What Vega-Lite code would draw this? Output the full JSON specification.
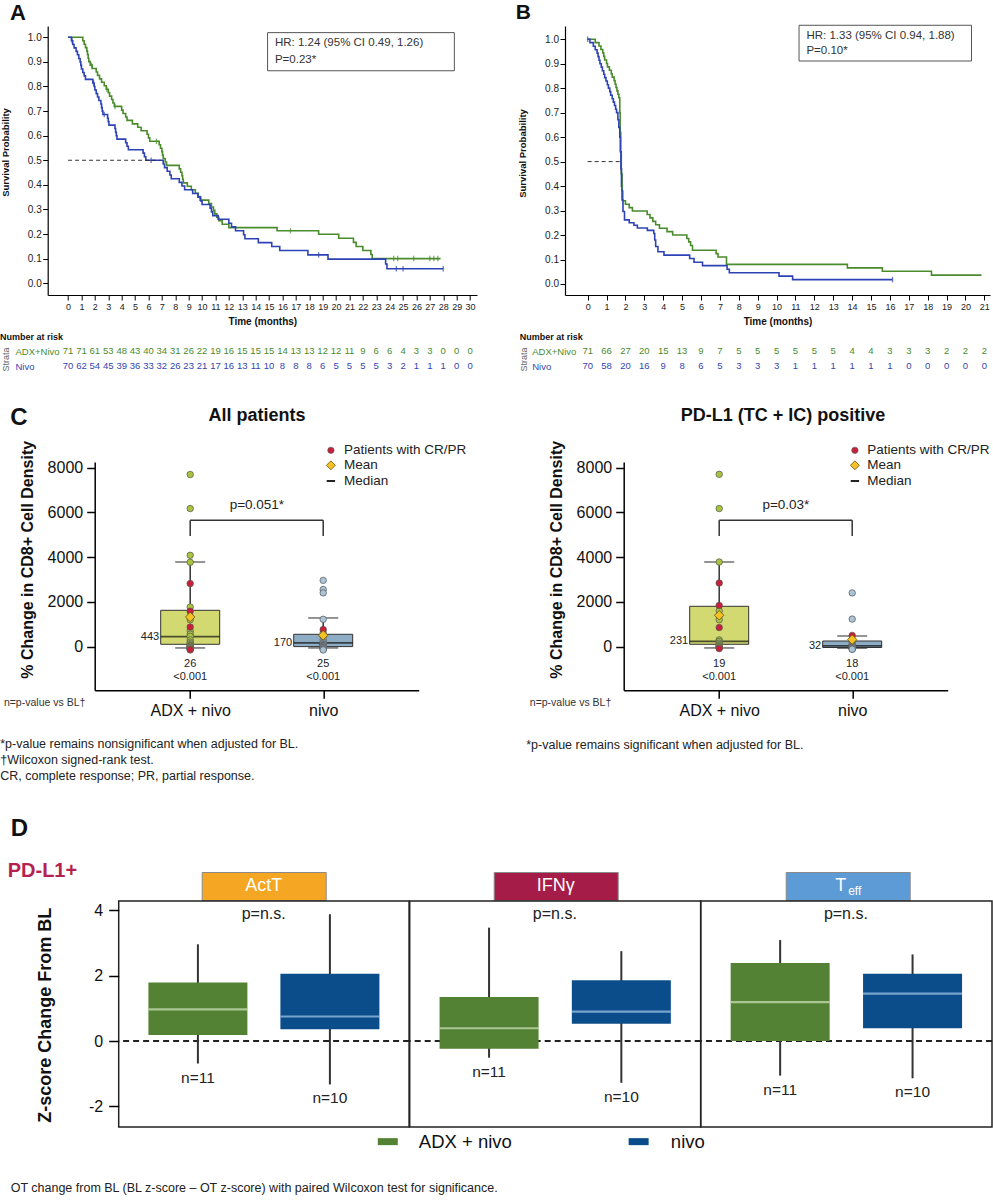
{
"$schema": "https://vega.github.io/schema/vega-lite/v6.json",
"autosize": {"type": "none"},
"padding": {"left": 47.7, "top": 26, "right": 945.3, "bottom": 1174},
"background": "white",
"config": {
  "view": {"stroke": null},
  "font": "Liberation Sans",
  "axis": {"grid": false, "labelOverlap": false, "domainColor": "#000", "tickColor": "#000", "labelColor": "#222", "titleColor": "#111", "labelFont": "Liberation Sans", "titleFont": "Liberation Sans"},
  "text": {"font": "Liberation Sans"}
},
"datasets": {
  "kmA": [
    {"t":0,"s":1.0,"g":"ADX+Nivo"},{"t":1.1,"s":0.986,"g":"ADX+Nivo"},{"t":1.2,"s":0.972,"g":"ADX+Nivo"},{"t":1.3,"s":0.958,"g":"ADX+Nivo"},{"t":1.4,"s":0.944,"g":"ADX+Nivo"},{"t":1.45,"s":0.930,"g":"ADX+Nivo"},{"t":1.5,"s":0.915,"g":"ADX+Nivo"},{"t":1.55,"s":0.901,"g":"ADX+Nivo"},{"t":1.65,"s":0.887,"g":"ADX+Nivo"},{"t":1.8,"s":0.873,"g":"ADX+Nivo"},{"t":2.1,"s":0.859,"g":"ADX+Nivo"},{"t":2.2,"s":0.845,"g":"ADX+Nivo"},{"t":2.35,"s":0.831,"g":"ADX+Nivo"},{"t":2.5,"s":0.817,"g":"ADX+Nivo"},{"t":2.7,"s":0.803,"g":"ADX+Nivo"},{"t":2.85,"s":0.789,"g":"ADX+Nivo"},{"t":3.0,"s":0.775,"g":"ADX+Nivo"},{"t":3.1,"s":0.761,"g":"ADX+Nivo"},{"t":3.25,"s":0.747,"g":"ADX+Nivo"},{"t":3.35,"s":0.733,"g":"ADX+Nivo"},{"t":3.45,"s":0.719,"g":"ADX+Nivo"},{"t":4.0,"s":0.704,"g":"ADX+Nivo"},{"t":4.1,"s":0.690,"g":"ADX+Nivo"},{"t":4.3,"s":0.676,"g":"ADX+Nivo"},{"t":4.4,"s":0.662,"g":"ADX+Nivo"},{"t":4.8,"s":0.648,"g":"ADX+Nivo"},{"t":5.2,"s":0.634,"g":"ADX+Nivo"},{"t":5.45,"s":0.620,"g":"ADX+Nivo"},{"t":5.9,"s":0.606,"g":"ADX+Nivo"},{"t":6.0,"s":0.591,"g":"ADX+Nivo"},{"t":6.1,"s":0.577,"g":"ADX+Nivo"},{"t":6.8,"s":0.563,"g":"ADX+Nivo"},{"t":6.9,"s":0.549,"g":"ADX+Nivo"},{"t":7.0,"s":0.535,"g":"ADX+Nivo"},{"t":7.05,"s":0.521,"g":"ADX+Nivo"},{"t":7.1,"s":0.507,"g":"ADX+Nivo"},{"t":7.25,"s":0.493,"g":"ADX+Nivo"},{"t":7.35,"s":0.479,"g":"ADX+Nivo"},{"t":8.3,"s":0.465,"g":"ADX+Nivo"},{"t":8.4,"s":0.451,"g":"ADX+Nivo"},{"t":8.5,"s":0.437,"g":"ADX+Nivo"},{"t":8.55,"s":0.423,"g":"ADX+Nivo"},{"t":8.6,"s":0.408,"g":"ADX+Nivo"},{"t":8.9,"s":0.394,"g":"ADX+Nivo"},{"t":9.2,"s":0.380,"g":"ADX+Nivo"},{"t":9.5,"s":0.366,"g":"ADX+Nivo"},{"t":9.7,"s":0.352,"g":"ADX+Nivo"},{"t":9.85,"s":0.338,"g":"ADX+Nivo"},{"t":10.5,"s":0.324,"g":"ADX+Nivo"},{"t":10.7,"s":0.310,"g":"ADX+Nivo"},{"t":10.85,"s":0.296,"g":"ADX+Nivo"},{"t":10.95,"s":0.282,"g":"ADX+Nivo"},{"t":11.1,"s":0.268,"g":"ADX+Nivo"},{"t":11.25,"s":0.254,"g":"ADX+Nivo"},{"t":11.5,"s":0.240,"g":"ADX+Nivo"},{"t":12.0,"s":0.226,"g":"ADX+Nivo"},{"t":15.6,"s":0.213,"g":"ADX+Nivo"},{"t":18.7,"s":0.199,"g":"ADX+Nivo"},{"t":20.2,"s":0.183,"g":"ADX+Nivo"},{"t":21.3,"s":0.166,"g":"ADX+Nivo"},{"t":21.5,"s":0.149,"g":"ADX+Nivo"},{"t":22.0,"s":0.133,"g":"ADX+Nivo"},{"t":22.6,"s":0.117,"g":"ADX+Nivo"},{"t":22.7,"s":0.100,"g":"ADX+Nivo"},{"t":27.8,"s":0.100,"g":"ADX+Nivo"},
    {"t":0,"s":1.0,"g":"Nivo"},{"t":0.25,"s":0.986,"g":"Nivo"},{"t":0.35,"s":0.971,"g":"Nivo"},{"t":0.45,"s":0.957,"g":"Nivo"},{"t":0.6,"s":0.943,"g":"Nivo"},{"t":0.7,"s":0.929,"g":"Nivo"},{"t":0.8,"s":0.914,"g":"Nivo"},{"t":0.9,"s":0.900,"g":"Nivo"},{"t":0.95,"s":0.886,"g":"Nivo"},{"t":1.0,"s":0.871,"g":"Nivo"},{"t":1.1,"s":0.857,"g":"Nivo"},{"t":1.2,"s":0.843,"g":"Nivo"},{"t":1.3,"s":0.829,"g":"Nivo"},{"t":1.85,"s":0.814,"g":"Nivo"},{"t":1.95,"s":0.800,"g":"Nivo"},{"t":2.0,"s":0.786,"g":"Nivo"},{"t":2.1,"s":0.771,"g":"Nivo"},{"t":2.2,"s":0.757,"g":"Nivo"},{"t":2.3,"s":0.743,"g":"Nivo"},{"t":2.45,"s":0.729,"g":"Nivo"},{"t":2.5,"s":0.714,"g":"Nivo"},{"t":2.55,"s":0.700,"g":"Nivo"},{"t":2.6,"s":0.686,"g":"Nivo"},{"t":2.95,"s":0.671,"g":"Nivo"},{"t":3.0,"s":0.657,"g":"Nivo"},{"t":3.05,"s":0.643,"g":"Nivo"},{"t":3.5,"s":0.629,"g":"Nivo"},{"t":3.55,"s":0.614,"g":"Nivo"},{"t":3.6,"s":0.600,"g":"Nivo"},{"t":3.65,"s":0.586,"g":"Nivo"},{"t":4.3,"s":0.571,"g":"Nivo"},{"t":4.4,"s":0.557,"g":"Nivo"},{"t":4.5,"s":0.543,"g":"Nivo"},{"t":5.6,"s":0.529,"g":"Nivo"},{"t":5.7,"s":0.514,"g":"Nivo"},{"t":5.8,"s":0.500,"g":"Nivo"},{"t":7.1,"s":0.485,"g":"Nivo"},{"t":7.2,"s":0.470,"g":"Nivo"},{"t":7.4,"s":0.455,"g":"Nivo"},{"t":7.6,"s":0.440,"g":"Nivo"},{"t":7.7,"s":0.425,"g":"Nivo"},{"t":8.3,"s":0.410,"g":"Nivo"},{"t":8.5,"s":0.395,"g":"Nivo"},{"t":8.7,"s":0.380,"g":"Nivo"},{"t":9.3,"s":0.365,"g":"Nivo"},{"t":9.7,"s":0.350,"g":"Nivo"},{"t":9.9,"s":0.335,"g":"Nivo"},{"t":10.0,"s":0.320,"g":"Nivo"},{"t":10.6,"s":0.305,"g":"Nivo"},{"t":10.7,"s":0.290,"g":"Nivo"},{"t":10.8,"s":0.275,"g":"Nivo"},{"t":11.2,"s":0.260,"g":"Nivo"},{"t":12.0,"s":0.244,"g":"Nivo"},{"t":12.2,"s":0.229,"g":"Nivo"},{"t":12.5,"s":0.213,"g":"Nivo"},{"t":13.1,"s":0.197,"g":"Nivo"},{"t":13.2,"s":0.181,"g":"Nivo"},{"t":14.2,"s":0.165,"g":"Nivo"},{"t":15.2,"s":0.149,"g":"Nivo"},{"t":15.8,"s":0.133,"g":"Nivo"},{"t":17.9,"s":0.115,"g":"Nivo"},{"t":19.4,"s":0.098,"g":"Nivo"},{"t":23.7,"s":0.078,"g":"Nivo"},{"t":23.8,"s":0.059,"g":"Nivo"},{"t":28.0,"s":0.059,"g":"Nivo"}
  ],
  "censA": [
    {"t":1.75,"s":0.887,"g":"ADX+Nivo"},{"t":2.9,"s":0.789,"g":"ADX+Nivo"},{"t":3.5,"s":0.719,"g":"ADX+Nivo"},{"t":6.6,"s":0.577,"g":"ADX+Nivo"},{"t":16.6,"s":0.213,"g":"ADX+Nivo"},{"t":24.3,"s":0.1,"g":"ADX+Nivo"},{"t":24.6,"s":0.1,"g":"ADX+Nivo"},{"t":25.8,"s":0.1,"g":"ADX+Nivo"},{"t":27.0,"s":0.1,"g":"ADX+Nivo"},{"t":27.3,"s":0.1,"g":"ADX+Nivo"},{"t":27.6,"s":0.1,"g":"ADX+Nivo"},
    {"t":0.3,"s":0.986,"g":"Nivo"},{"t":1.9,"s":0.814,"g":"Nivo"},{"t":2.7,"s":0.686,"g":"Nivo"},{"t":6.2,"s":0.5,"g":"Nivo"},{"t":18.7,"s":0.115,"g":"Nivo"},{"t":24.5,"s":0.059,"g":"Nivo"},{"t":25.0,"s":0.059,"g":"Nivo"},{"t":28.0,"s":0.059,"g":"Nivo"}
  ],
  "kmB": [
    {"t":0,"s":1.0,"g":"ADX+Nivo"},{"t":0.4,"s":0.986,"g":"ADX+Nivo"},{"t":0.6,"s":0.972,"g":"ADX+Nivo"},{"t":0.7,"s":0.958,"g":"ADX+Nivo"},{"t":0.8,"s":0.944,"g":"ADX+Nivo"},{"t":0.85,"s":0.930,"g":"ADX+Nivo"},{"t":0.9,"s":0.915,"g":"ADX+Nivo"},{"t":1.0,"s":0.901,"g":"ADX+Nivo"},{"t":1.05,"s":0.887,"g":"ADX+Nivo"},{"t":1.15,"s":0.873,"g":"ADX+Nivo"},{"t":1.25,"s":0.859,"g":"ADX+Nivo"},{"t":1.3,"s":0.845,"g":"ADX+Nivo"},{"t":1.4,"s":0.831,"g":"ADX+Nivo"},{"t":1.45,"s":0.817,"g":"ADX+Nivo"},{"t":1.5,"s":0.803,"g":"ADX+Nivo"},{"t":1.55,"s":0.789,"g":"ADX+Nivo"},{"t":1.6,"s":0.775,"g":"ADX+Nivo"},{"t":1.65,"s":0.761,"g":"ADX+Nivo"},{"t":1.7,"s":0.700,"g":"ADX+Nivo"},{"t":1.72,"s":0.620,"g":"ADX+Nivo"},{"t":1.75,"s":0.540,"g":"ADX+Nivo"},{"t":1.78,"s":0.450,"g":"ADX+Nivo"},{"t":1.82,"s":0.380,"g":"ADX+Nivo"},{"t":1.86,"s":0.340,"g":"ADX+Nivo"},{"t":2.0,"s":0.326,"g":"ADX+Nivo"},{"t":2.2,"s":0.312,"g":"ADX+Nivo"},{"t":2.37,"s":0.298,"g":"ADX+Nivo"},{"t":3.15,"s":0.284,"g":"ADX+Nivo"},{"t":3.3,"s":0.270,"g":"ADX+Nivo"},{"t":3.45,"s":0.256,"g":"ADX+Nivo"},{"t":3.6,"s":0.242,"g":"ADX+Nivo"},{"t":3.8,"s":0.228,"g":"ADX+Nivo"},{"t":4.2,"s":0.214,"g":"ADX+Nivo"},{"t":4.5,"s":0.200,"g":"ADX+Nivo"},{"t":5.25,"s":0.186,"g":"ADX+Nivo"},{"t":5.35,"s":0.172,"g":"ADX+Nivo"},{"t":5.45,"s":0.157,"g":"ADX+Nivo"},{"t":5.55,"s":0.138,"g":"ADX+Nivo"},{"t":6.8,"s":0.124,"g":"ADX+Nivo"},{"t":6.9,"s":0.110,"g":"ADX+Nivo"},{"t":7.35,"s":0.080,"g":"ADX+Nivo"},{"t":13.75,"s":0.066,"g":"ADX+Nivo"},{"t":15.6,"s":0.052,"g":"ADX+Nivo"},{"t":18.2,"s":0.036,"g":"ADX+Nivo"},{"t":20.85,"s":0.036,"g":"ADX+Nivo"},
    {"t":0,"s":1.0,"g":"Nivo"},{"t":0.12,"s":0.986,"g":"Nivo"},{"t":0.3,"s":0.971,"g":"Nivo"},{"t":0.4,"s":0.957,"g":"Nivo"},{"t":0.5,"s":0.943,"g":"Nivo"},{"t":0.55,"s":0.929,"g":"Nivo"},{"t":0.6,"s":0.914,"g":"Nivo"},{"t":0.65,"s":0.900,"g":"Nivo"},{"t":0.72,"s":0.886,"g":"Nivo"},{"t":0.78,"s":0.871,"g":"Nivo"},{"t":0.85,"s":0.857,"g":"Nivo"},{"t":0.9,"s":0.843,"g":"Nivo"},{"t":0.97,"s":0.829,"g":"Nivo"},{"t":1.04,"s":0.814,"g":"Nivo"},{"t":1.1,"s":0.800,"g":"Nivo"},{"t":1.17,"s":0.786,"g":"Nivo"},{"t":1.22,"s":0.771,"g":"Nivo"},{"t":1.3,"s":0.757,"g":"Nivo"},{"t":1.36,"s":0.743,"g":"Nivo"},{"t":1.42,"s":0.729,"g":"Nivo"},{"t":1.48,"s":0.714,"g":"Nivo"},{"t":1.53,"s":0.700,"g":"Nivo"},{"t":1.6,"s":0.671,"g":"Nivo"},{"t":1.65,"s":0.640,"g":"Nivo"},{"t":1.7,"s":0.600,"g":"Nivo"},{"t":1.73,"s":0.540,"g":"Nivo"},{"t":1.76,"s":0.470,"g":"Nivo"},{"t":1.79,"s":0.400,"g":"Nivo"},{"t":1.82,"s":0.343,"g":"Nivo"},{"t":1.87,"s":0.296,"g":"Nivo"},{"t":1.95,"s":0.262,"g":"Nivo"},{"t":2.2,"s":0.250,"g":"Nivo"},{"t":2.45,"s":0.240,"g":"Nivo"},{"t":2.63,"s":0.229,"g":"Nivo"},{"t":3.16,"s":0.219,"g":"Nivo"},{"t":3.5,"s":0.206,"g":"Nivo"},{"t":3.55,"s":0.180,"g":"Nivo"},{"t":3.6,"s":0.153,"g":"Nivo"},{"t":3.72,"s":0.132,"g":"Nivo"},{"t":4.04,"s":0.118,"g":"Nivo"},{"t":5.4,"s":0.104,"g":"Nivo"},{"t":5.63,"s":0.089,"g":"Nivo"},{"t":6.08,"s":0.075,"g":"Nivo"},{"t":7.38,"s":0.060,"g":"Nivo"},{"t":7.5,"s":0.046,"g":"Nivo"},{"t":10.13,"s":0.032,"g":"Nivo"},{"t":10.85,"s":0.018,"g":"Nivo"},{"t":16.14,"s":0.018,"g":"Nivo"}
  ],
  "censB": [
    {"t":1.84,"s":0.40,"g":"ADX+Nivo"},{"t":0,"s":1.0,"g":"Nivo"},{"t":16.14,"s":0.018,"g":"Nivo"}
  ],
  "riskA": [
    {"t":0,"g":"ADX+Nivo","n":71},{"t":1,"g":"ADX+Nivo","n":71},{"t":2,"g":"ADX+Nivo","n":61},{"t":3,"g":"ADX+Nivo","n":53},{"t":4,"g":"ADX+Nivo","n":48},{"t":5,"g":"ADX+Nivo","n":43},{"t":6,"g":"ADX+Nivo","n":40},{"t":7,"g":"ADX+Nivo","n":34},{"t":8,"g":"ADX+Nivo","n":31},{"t":9,"g":"ADX+Nivo","n":26},{"t":10,"g":"ADX+Nivo","n":22},{"t":11,"g":"ADX+Nivo","n":19},{"t":12,"g":"ADX+Nivo","n":16},{"t":13,"g":"ADX+Nivo","n":15},{"t":14,"g":"ADX+Nivo","n":15},{"t":15,"g":"ADX+Nivo","n":15},{"t":16,"g":"ADX+Nivo","n":14},{"t":17,"g":"ADX+Nivo","n":13},{"t":18,"g":"ADX+Nivo","n":13},{"t":19,"g":"ADX+Nivo","n":12},{"t":20,"g":"ADX+Nivo","n":12},{"t":21,"g":"ADX+Nivo","n":11},{"t":22,"g":"ADX+Nivo","n":9},{"t":23,"g":"ADX+Nivo","n":6},{"t":24,"g":"ADX+Nivo","n":6},{"t":25,"g":"ADX+Nivo","n":4},{"t":26,"g":"ADX+Nivo","n":3},{"t":27,"g":"ADX+Nivo","n":3},{"t":28,"g":"ADX+Nivo","n":0},{"t":29,"g":"ADX+Nivo","n":0},{"t":30,"g":"ADX+Nivo","n":0},
    {"t":0,"g":"Nivo","n":70},{"t":1,"g":"Nivo","n":62},{"t":2,"g":"Nivo","n":54},{"t":3,"g":"Nivo","n":45},{"t":4,"g":"Nivo","n":39},{"t":5,"g":"Nivo","n":36},{"t":6,"g":"Nivo","n":33},{"t":7,"g":"Nivo","n":32},{"t":8,"g":"Nivo","n":26},{"t":9,"g":"Nivo","n":23},{"t":10,"g":"Nivo","n":21},{"t":11,"g":"Nivo","n":17},{"t":12,"g":"Nivo","n":16},{"t":13,"g":"Nivo","n":13},{"t":14,"g":"Nivo","n":11},{"t":15,"g":"Nivo","n":10},{"t":16,"g":"Nivo","n":8},{"t":17,"g":"Nivo","n":8},{"t":18,"g":"Nivo","n":8},{"t":19,"g":"Nivo","n":6},{"t":20,"g":"Nivo","n":5},{"t":21,"g":"Nivo","n":5},{"t":22,"g":"Nivo","n":5},{"t":23,"g":"Nivo","n":5},{"t":24,"g":"Nivo","n":3},{"t":25,"g":"Nivo","n":2},{"t":26,"g":"Nivo","n":1},{"t":27,"g":"Nivo","n":1},{"t":28,"g":"Nivo","n":1},{"t":29,"g":"Nivo","n":0},{"t":30,"g":"Nivo","n":0}
  ],
  "riskB": [
    {"t":0,"g":"ADX+Nivo","n":71},{"t":1,"g":"ADX+Nivo","n":66},{"t":2,"g":"ADX+Nivo","n":27},{"t":3,"g":"ADX+Nivo","n":20},{"t":4,"g":"ADX+Nivo","n":15},{"t":5,"g":"ADX+Nivo","n":13},{"t":6,"g":"ADX+Nivo","n":9},{"t":7,"g":"ADX+Nivo","n":7},{"t":8,"g":"ADX+Nivo","n":5},{"t":9,"g":"ADX+Nivo","n":5},{"t":10,"g":"ADX+Nivo","n":5},{"t":11,"g":"ADX+Nivo","n":5},{"t":12,"g":"ADX+Nivo","n":5},{"t":13,"g":"ADX+Nivo","n":5},{"t":14,"g":"ADX+Nivo","n":4},{"t":15,"g":"ADX+Nivo","n":4},{"t":16,"g":"ADX+Nivo","n":3},{"t":17,"g":"ADX+Nivo","n":3},{"t":18,"g":"ADX+Nivo","n":3},{"t":19,"g":"ADX+Nivo","n":2},{"t":20,"g":"ADX+Nivo","n":2},{"t":21,"g":"ADX+Nivo","n":2},
    {"t":0,"g":"Nivo","n":70},{"t":1,"g":"Nivo","n":58},{"t":2,"g":"Nivo","n":20},{"t":3,"g":"Nivo","n":16},{"t":4,"g":"Nivo","n":9},{"t":5,"g":"Nivo","n":8},{"t":6,"g":"Nivo","n":6},{"t":7,"g":"Nivo","n":5},{"t":8,"g":"Nivo","n":3},{"t":9,"g":"Nivo","n":3},{"t":10,"g":"Nivo","n":3},{"t":11,"g":"Nivo","n":1},{"t":12,"g":"Nivo","n":1},{"t":13,"g":"Nivo","n":1},{"t":14,"g":"Nivo","n":1},{"t":15,"g":"Nivo","n":1},{"t":16,"g":"Nivo","n":1},{"t":17,"g":"Nivo","n":0},{"t":18,"g":"Nivo","n":0},{"t":19,"g":"Nivo","n":0},{"t":20,"g":"Nivo","n":0},{"t":21,"g":"Nivo","n":0}
  ],
  "cAll": [
    {"arm":"ADX + nivo","v":7690,"cr":false},{"arm":"ADX + nivo","v":6170,"cr":false},{"arm":"ADX + nivo","v":4080,"cr":false},{"arm":"ADX + nivo","v":3770,"cr":false},{"arm":"ADX + nivo","v":1770,"cr":false},{"arm":"ADX + nivo","v":1330,"cr":false},{"arm":"ADX + nivo","v":1200,"cr":false},{"arm":"ADX + nivo","v":700,"cr":false},{"arm":"ADX + nivo","v":560,"cr":false},{"arm":"ADX + nivo","v":460,"cr":false},{"arm":"ADX + nivo","v":300,"cr":false},{"arm":"ADX + nivo","v":200,"cr":false},{"arm":"ADX + nivo","v":130,"cr":false},{"arm":"ADX + nivo","v":80,"cr":false},{"arm":"ADX + nivo","v":40,"cr":false},{"arm":"ADX + nivo","v":20,"cr":false},{"arm":"ADX + nivo","v":10,"cr":false},{"arm":"ADX + nivo","v":-20,"cr":false},{"arm":"ADX + nivo","v":-50,"cr":false},{"arm":"ADX + nivo","v":-80,"cr":false},{"arm":"ADX + nivo","v":-100,"cr":false},{"arm":"ADX + nivo","v":-150,"cr":false},
    {"arm":"nivo","v":2960,"cr":false},{"arm":"nivo","v":2550,"cr":false},{"arm":"nivo","v":2400,"cr":false},{"arm":"nivo","v":1220,"cr":false},{"arm":"nivo","v":620,"cr":false},{"arm":"nivo","v":450,"cr":false},{"arm":"nivo","v":300,"cr":false},{"arm":"nivo","v":200,"cr":false},{"arm":"nivo","v":170,"cr":false},{"arm":"nivo","v":120,"cr":false},{"arm":"nivo","v":100,"cr":false},{"arm":"nivo","v":80,"cr":false},{"arm":"nivo","v":60,"cr":false},{"arm":"nivo","v":50,"cr":false},{"arm":"nivo","v":30,"cr":false},{"arm":"nivo","v":10,"cr":false},{"arm":"nivo","v":0,"cr":false},{"arm":"nivo","v":-20,"cr":false},{"arm":"nivo","v":-40,"cr":false},{"arm":"nivo","v":-60,"cr":false},{"arm":"nivo","v":-80,"cr":false},{"arm":"nivo","v":-100,"cr":false},{"arm":"nivo","v":-120,"cr":false},{"arm":"nivo","v":-150,"cr":false},
    {"arm":"ADX + nivo","v":2815,"cr":true},{"arm":"ADX + nivo","v":1580,"cr":true},{"arm":"ADX + nivo","v":876,"cr":true},{"arm":"ADX + nivo","v":-134,"cr":true},{"arm":"nivo","v":760,"cr":true}
  ],
  "cAllBox": [
    {"arm":"ADX + nivo","wlo":-60,"q1":103,"med":443,"q3":1622,"whi":3781,"mean":1323,"mlab":"443","n":"26","p":"<0.001"},
    {"arm":"nivo","wlo":-60,"q1":0,"med":170,"q3":550,"whi":1280,"mean":505,"mlab":"170","n":"25","p":"<0.001"}
  ],
  "cPos": [
    {"arm":"ADX + nivo","v":7700,"cr":false},{"arm":"ADX + nivo","v":6170,"cr":false},{"arm":"ADX + nivo","v":3780,"cr":false},{"arm":"ADX + nivo","v":1600,"cr":false},{"arm":"ADX + nivo","v":1400,"cr":false},{"arm":"ADX + nivo","v":1200,"cr":false},{"arm":"ADX + nivo","v":300,"cr":false},{"arm":"ADX + nivo","v":231,"cr":false},{"arm":"ADX + nivo","v":150,"cr":false},{"arm":"ADX + nivo","v":100,"cr":false},{"arm":"ADX + nivo","v":50,"cr":false},{"arm":"ADX + nivo","v":10,"cr":false},{"arm":"ADX + nivo","v":0,"cr":false},{"arm":"ADX + nivo","v":-20,"cr":false},{"arm":"ADX + nivo","v":-60,"cr":false},
    {"arm":"nivo","v":2400,"cr":false},{"arm":"nivo","v":1230,"cr":false},{"arm":"nivo","v":300,"cr":false},{"arm":"nivo","v":200,"cr":false},{"arm":"nivo","v":120,"cr":false},{"arm":"nivo","v":80,"cr":false},{"arm":"nivo","v":50,"cr":false},{"arm":"nivo","v":32,"cr":false},{"arm":"nivo","v":20,"cr":false},{"arm":"nivo","v":0,"cr":false},{"arm":"nivo","v":-20,"cr":false},{"arm":"nivo","v":-40,"cr":false},{"arm":"nivo","v":-60,"cr":false},{"arm":"nivo","v":-80,"cr":false},{"arm":"nivo","v":-100,"cr":false},{"arm":"nivo","v":-110,"cr":false},{"arm":"nivo","v":-120,"cr":false},
    {"arm":"ADX + nivo","v":2840,"cr":true},{"arm":"ADX + nivo","v":1840,"cr":true},{"arm":"ADX + nivo","v":850,"cr":true},{"arm":"ADX + nivo","v":-90,"cr":true},{"arm":"nivo","v":500,"cr":true}
  ],
  "cPosBox": [
    {"arm":"ADX + nivo","wlo":-60,"q1":103,"med":231,"q3":1801,"whi":3781,"mean":1399,"mlab":"231","n":"19","p":"<0.001"},
    {"arm":"nivo","wlo":-70,"q1":-40,"med":32,"q3":250,"whi":474,"mean":313,"mlab":"32","n":"18","p":"<0.001"}
  ],
  "dbox": [
    {"cat":"ActT","arm":"ADX + nivo","wlo":-0.69,"q1":0.18,"med":0.97,"q3":1.79,"whi":2.96,"n":"n=11"},
    {"cat":"ActT","arm":"nivo","wlo":-1.33,"q1":0.36,"med":0.75,"q3":2.06,"whi":3.88,"n":"n=10"},
    {"cat":"IFNg","arm":"ADX + nivo","wlo":-0.51,"q1":-0.24,"med":0.39,"q3":1.35,"whi":3.47,"n":"n=11"},
    {"cat":"IFNg","arm":"nivo","wlo":-1.28,"q1":0.53,"med":0.90,"q3":1.86,"whi":2.75,"n":"n=10"},
    {"cat":"Teff","arm":"ADX + nivo","wlo":-1.06,"q1":0.0,"med":1.19,"q3":2.39,"whi":3.09,"n":"n=11"},
    {"cat":"Teff","arm":"nivo","wlo":-1.14,"q1":0.39,"med":1.45,"q3":2.06,"whi":2.65,"n":"n=10"}
  ]
},
"spacing": 0,
"bounds": "flush",
"vconcat": [
  {
    "spacing": 87.3, "bounds": "flush",
    "hconcat": [
      {
        "width": 429.3, "height": 269,
        "layer": [
          {"data": {"name": "kmA"}, "mark": {"type": "line", "interpolate": "step-after", "strokeWidth": 1.6},
           "encoding": {
             "x": {"field": "t", "type": "quantitative", "scale": {"domain": [-1.52, 30.52], "nice": false, "zero": false},
               "axis": {"values": [0,1,2,3,4,5,6,7,8,9,10,11,12,13,14,15,16,17,18,19,20,21,22,23,24,25,26,27,28,29,30], "tickCount": 100, "format": "d", "title": "Time (months)", "labelFontSize": 9, "tickSize": 5, "labelPadding": 2, "labelFlush": false, "labelOverlap": false, "titleFontSize": 10, "titleFontWeight": "bold", "titlePadding": 5, "domainWidth": 1.2}},
             "y": {"field": "s", "type": "quantitative", "scale": {"domain": [-0.048, 1.046], "nice": false, "zero": false},
               "axis": {"values": [0,0.1,0.2,0.3,0.4,0.5,0.6,0.7,0.8,0.9,1], "tickCount": 100, "format": ".1f", "labelOverlap": false, "title": "Survival Probability", "labelFontSize": 10, "tickSize": 5, "labelPadding": 1.5, "titleFontSize": 9.5, "titleFontWeight": "bold", "titleX": -42.7, "titleY": 126, "titleAlign": "center", "titleBaseline": "middle", "titleAngle": -90, "domainWidth": 1.2}},
             "detail": {"field": "g", "type": "nominal"},
             "color": {"condition": {"test": "datum.g === 'Nivo'", "value": "#2d43b5"}, "value": "#4a8b2c"}
           }},
          {"data": {"name": "censA"}, "mark": {"type": "point", "shape": "M0,-1V1", "filled": false, "size": 30, "strokeWidth": 1.3},
           "encoding": {"x": {"field": "t", "type": "quantitative"}, "y": {"field": "s", "type": "quantitative"}, "color": {"condition": {"test": "datum.g === 'Nivo'", "value": "#2d43b5"}, "value": "#4a8b2c"}}},
          {"data": {"values": [{}]}, "mark": {"type": "rule", "strokeDash": [4, 3], "color": "#333", "strokeWidth": 1},
           "encoding": {"x": {"datum": 0}, "x2": {"datum": 6.9}, "y": {"datum": 0.5}}},
          {"data": {"values": [{}]}, "mark": {"type": "rect", "fill": "white", "stroke": "#555", "strokeWidth": 1},
           "encoding": {"x": {"datum": 14.89}, "x2": {"datum": 28.83}, "y": {"datum": 1.019}, "y2": {"datum": 0.864}}},
          {"data": {"values": [{}]}, "mark": {"type": "text", "align": "left", "baseline": "middle", "fontSize": 11.5, "color": "#333"},
           "encoding": {"x": {"datum": 15.44}, "y": {"datum": 0.976}, "text": {"value": "HR: 1.24 (95% CI 0.49, 1.26)"}}},
          {"data": {"values": [{}]}, "mark": {"type": "text", "align": "left", "baseline": "middle", "fontSize": 11.5, "color": "#333"},
           "encoding": {"x": {"datum": 15.44}, "y": {"datum": 0.908}, "text": {"value": "P=0.23*"}}},
          {"data": {"values": [{}]}, "mark": {"type": "text", "align": "left", "baseline": "middle", "fontSize": 22, "fontWeight": "bold", "color": "#111", "dx": -37.7, "dy": -13},
           "encoding": {"x": {"datum": -1.52}, "y": {"datum": 1.046}, "text": {"value": "A"}}}
        ]
      },
      {
        "width": 425, "height": 269,
        "layer": [
          {"data": {"name": "kmB"}, "mark": {"type": "line", "interpolate": "step-after", "strokeWidth": 1.6},
           "encoding": {
             "x": {"field": "t", "type": "quantitative", "scale": {"domain": [-1.2, 21.3], "nice": false, "zero": false},
               "axis": {"values": [0,1,2,3,4,5,6,7,8,9,10,11,12,13,14,15,16,17,18,19,20,21], "tickCount": 100, "format": "d", "title": "Time (months)", "labelFontSize": 9, "tickSize": 5, "labelPadding": 2, "labelFlush": false, "labelOverlap": false, "titleFontSize": 10, "titleFontWeight": "bold", "titlePadding": 5, "domainWidth": 1.2}},
             "y": {"field": "s", "type": "quantitative", "scale": {"domain": [-0.045, 1.054], "nice": false, "zero": false},
               "axis": {"values": [0,0.1,0.2,0.3,0.4,0.5,0.6,0.7,0.8,0.9,1], "tickCount": 100, "format": ".1f", "labelOverlap": false, "title": "Survival Probability", "labelFontSize": 10, "tickSize": 5, "labelPadding": 1.5, "titleFontSize": 9.5, "titleFontWeight": "bold", "titleX": -42.6, "titleY": 127, "titleAlign": "center", "titleBaseline": "middle", "titleAngle": -90, "domainWidth": 1.2}},
             "detail": {"field": "g", "type": "nominal"},
             "color": {"condition": {"test": "datum.g === 'Nivo'", "value": "#2d43b5"}, "value": "#4a8b2c"}
           }},
          {"data": {"name": "censB"}, "mark": {"type": "point", "shape": "M0,-1V1", "filled": false, "size": 30, "strokeWidth": 1.3},
           "encoding": {"x": {"field": "t", "type": "quantitative"}, "y": {"field": "s", "type": "quantitative"}, "color": {"condition": {"test": "datum.g === 'Nivo'", "value": "#2d43b5"}, "value": "#4a8b2c"}}},
          {"data": {"values": [{}]}, "mark": {"type": "rule", "strokeDash": [4, 3], "color": "#333", "strokeWidth": 1},
           "encoding": {"x": {"datum": 0}, "x2": {"datum": 1.75}, "y": {"datum": 0.5}}},
          {"data": {"values": [{}]}, "mark": {"type": "rect", "fill": "white", "stroke": "#555", "strokeWidth": 1},
           "encoding": {"x": {"datum": 11.19}, "x2": {"datum": 20.32}, "y": {"datum": 1.057}, "y2": {"datum": 0.911}}},
          {"data": {"values": [{}]}, "mark": {"type": "text", "align": "left", "baseline": "middle", "fontSize": 11.5, "color": "#333"},
           "encoding": {"x": {"datum": 11.58}, "y": {"datum": 1.015}, "text": {"value": "HR: 1.33 (95% CI 0.94, 1.88)"}}},
          {"data": {"values": [{}]}, "mark": {"type": "text", "align": "left", "baseline": "middle", "fontSize": 11.5, "color": "#333"},
           "encoding": {"x": {"datum": 11.58}, "y": {"datum": 0.953}, "text": {"value": "P=0.10*"}}},
          {"data": {"values": [{}]}, "mark": {"type": "text", "align": "left", "baseline": "middle", "fontSize": 21, "fontWeight": "bold", "color": "#111", "dx": -49.3, "dy": -13},
           "encoding": {"x": {"datum": -1.2}, "y": {"datum": 1.054}, "text": {"value": "B"}}}
        ]
      }
    ]
  },
  {"width": 1, "height": 314, "data": {"values": [{}]}, "mark": "text", "encoding": {"text": {"value": ""}}},
  {
    "spacing": 87.3, "bounds": "flush",
    "hconcat": [
      {
        "width": 429.3, "height": 35,
        "layer": [
          {"data": {"name": "riskA"},
           "mark": {"type": "text", "fontSize": 9.5, "baseline": "middle"},
           "encoding": {
             "x": {"field": "t", "type": "quantitative", "scale": {"domain": [-1.52, 30.52], "nice": false, "zero": false}, "axis": null},
             "y": {"field": "g", "type": "nominal", "scale": {"type": "point", "domain": ["ADX+Nivo", "Nivo"], "range": [11, 26], "padding": 0},
               "axis": {"title": "Strata", "domain": false, "ticks": false, "tickSize": 0, "labelAlign": "left", "labelPadding": 32.7, "labelFontSize": 9.5, "labelBaseline": "middle",
                 "labelColor": {"condition": {"test": "datum.value === 'Nivo'", "value": "#3346b0"}, "value": "#4a8b2c"},
                 "titleX": -42.7, "titleY": 19, "titleAngle": -90, "titleAlign": "center", "titleBaseline": "middle", "titleFontSize": 9, "titleFontWeight": "normal", "titleColor": "#666"}},
             "text": {"field": "n", "type": "quantitative"},
             "color": {"condition": {"test": "datum.g === 'Nivo'", "value": "#3346b0"}, "value": "#4a8b2c"}
           }},
          {"data": {"values": [{}]}, "mark": {"type": "text", "align": "left", "baseline": "middle", "fontSize": 9, "fontWeight": "bold", "color": "#111", "dx": -47.7, "dy": -14.3},
           "encoding": {"x": {"datum": -1.52}, "y": {"datum": "ADX+Nivo"}, "text": {"value": "Number at risk"}}}
        ]
      },
      {
        "width": 425, "height": 35,
        "layer": [
          {"data": {"name": "riskB"},
           "mark": {"type": "text", "fontSize": 9.5, "baseline": "middle"},
           "encoding": {
             "x": {"field": "t", "type": "quantitative", "scale": {"domain": [-1.2, 21.3], "nice": false, "zero": false}, "axis": null},
             "y": {"field": "g", "type": "nominal", "scale": {"type": "point", "domain": ["ADX+Nivo", "Nivo"], "range": [11, 26], "padding": 0},
               "axis": {"title": "Strata", "domain": false, "ticks": false, "tickSize": 0, "labelAlign": "left", "labelPadding": 33.3, "labelFontSize": 9.5, "labelBaseline": "middle",
                 "labelColor": {"condition": {"test": "datum.value === 'Nivo'", "value": "#3346b0"}, "value": "#4a8b2c"},
                 "titleX": -41.3, "titleY": 19, "titleAngle": -90, "titleAlign": "center", "titleBaseline": "middle", "titleFontSize": 9, "titleFontWeight": "normal", "titleColor": "#666"}},
             "text": {"field": "n", "type": "quantitative"},
             "color": {"condition": {"test": "datum.g === 'Nivo'", "value": "#3346b0"}, "value": "#4a8b2c"}
           }},
          {"data": {"values": [{}]}, "mark": {"type": "text", "align": "left", "baseline": "middle", "fontSize": 9, "fontWeight": "bold", "color": "#111", "dx": -45.3, "dy": -14.3},
           "encoding": {"x": {"datum": -1.2}, "y": {"datum": "ADX+Nivo"}, "text": {"value": "Number at risk"}}}
        ]
      }
    ]
  },
  {"width": 1, "height": 121.7, "data": {"values": [{}]}, "mark": "text", "encoding": {"text": {"value": ""}}},
  {
    "spacing": 0, "bounds": "flush",
    "hconcat": [
      {"width": 46.6, "height": 228.3, "data": {"values": [{}]}, "mark": "text", "encoding": {"text": {"value": ""}}},
      {
        "width": 324, "height": 228.3,
        "layer": [
          {"data": {"name": "cAllBox"}, "mark": {"type": "rule", "color": "#333", "strokeWidth": 1.5},
           "encoding": {
             "x": {"field": "arm", "type": "nominal", "scale": {"type": "point", "domain": ["ADX + nivo", "nivo"], "padding": 0.718},
               "axis": {"title": "n=p-value vs BL\u2020", "labelFontSize": 16, "labelAngle": 0, "tickSize": 8, "labelPadding": 4, "domainWidth": 1.5, "tickWidth": 1.5, "labelColor": "#111", "titleX": -91.3, "titleY": 11.7, "titleAlign": "left", "titleBaseline": "middle", "titleFontSize": 10.5, "titleFontWeight": "normal", "titleColor": "#333"}},
             "y": {"field": "wlo", "type": "quantitative", "scale": {"domain": [-1953, 8250], "nice": false, "zero": false},
               "axis": {"values": [0, 2000, 4000, 6000, 8000], "tickCount": 100, "format": "d", "title": "% Change in CD8+ Cell Density", "labelFontSize": 16, "tickSize": 8, "labelPadding": 4, "domainWidth": 1.5, "tickWidth": 1.5, "labelColor": "#111", "titleFontSize": 16, "titleFontWeight": "bold", "titleX": -67.3, "titleY": 97.3, "titleAlign": "center", "titleBaseline": "middle", "titleAngle": -90}},
             "y2": {"field": "whi"}
           }},
          {"data": {"name": "cAllBox"}, "mark": {"type": "tick", "color": "#333", "size": 30, "thickness": 1.5},
           "encoding": {"x": {"field": "arm", "type": "nominal"}, "y": {"field": "whi", "type": "quantitative"}}},
          {"data": {"name": "cAllBox"}, "mark": {"type": "tick", "color": "#333", "size": 30, "thickness": 1.5},
           "encoding": {"x": {"field": "arm", "type": "nominal"}, "y": {"field": "wlo", "type": "quantitative"}}},
          {"data": {"name": "cAllBox"}, "mark": {"type": "bar", "size": 59, "stroke": "#333", "strokeWidth": 1},
           "encoding": {"x": {"field": "arm", "type": "nominal"}, "y": {"field": "q1", "type": "quantitative"}, "y2": {"field": "q3"},
             "color": {"condition": {"test": "datum.arm === 'nivo'", "value": "#8eadc5"}, "value": "#d2d971"}}},
          {"data": {"name": "cAllBox"}, "mark": {"type": "tick", "color": "#111", "size": 59, "thickness": 1.8},
           "encoding": {"x": {"field": "arm", "type": "nominal"}, "y": {"field": "med", "type": "quantitative"}}},
          {"data": {"name": "cAll"}, "mark": {"type": "circle", "size": 42, "stroke": "#555", "strokeWidth": 0.7, "opacity": 1},
           "encoding": {"x": {"field": "arm", "type": "nominal"}, "y": {"field": "v", "type": "quantitative"},
             "color": {"condition": [{"test": "datum.cr", "value": "#c91f3a"}, {"test": "datum.arm === 'nivo'", "value": "#aac4d8"}], "value": "#a8c43f"}}},
          {"data": {"name": "cAllBox"}, "mark": {"type": "point", "shape": "diamond", "filled": true, "size": 90, "fill": "#f5c226", "stroke": "#6b5200", "strokeWidth": 0.8, "opacity": 1},
           "encoding": {"x": {"field": "arm", "type": "nominal"}, "y": {"field": "mean", "type": "quantitative"}}},
          {"data": {"name": "cAllBox"}, "mark": {"type": "text", "align": "right", "baseline": "middle", "dx": -31, "fontSize": 11, "color": "#222"},
           "encoding": {"x": {"field": "arm", "type": "nominal"}, "y": {"field": "med", "type": "quantitative"}, "text": {"field": "mlab"}}},
          {"data": {"name": "cAllBox"}, "mark": {"type": "text", "baseline": "middle", "fontSize": 11, "color": "#222"},
           "encoding": {"x": {"field": "arm", "type": "nominal"}, "y": {"datum": -790}, "text": {"field": "n"}}},
          {"data": {"name": "cAllBox"}, "mark": {"type": "text", "baseline": "middle", "fontSize": 11, "color": "#222"},
           "encoding": {"x": {"field": "arm", "type": "nominal"}, "y": {"datum": -1360}, "text": {"field": "p"}}},
          {"data": {"values": [{}]}, "mark": {"type": "rule", "color": "#333", "strokeWidth": 1.5},
           "encoding": {"x": {"datum": "ADX + nivo"}, "x2": {"datum": "nivo"}, "y": {"datum": 5645}}},
          {"data": {"name": "cAllBox"}, "mark": {"type": "rule", "color": "#333", "strokeWidth": 1.5},
           "encoding": {"x": {"field": "arm", "type": "nominal"}, "y": {"datum": 4943}, "y2": {"datum": 5645}}},
          {"data": {"values": [{}]}, "mark": {"type": "text", "baseline": "middle", "fontSize": 13.5, "color": "#222", "dx": 66.7},
           "encoding": {"x": {"datum": "ADX + nivo"}, "y": {"datum": 6347}, "text": {"value": "p=0.051*"}}},
          {"data": {"values": [{}]}, "mark": {"type": "circle", "size": 40, "color": "#c91f3a", "stroke": "#555", "strokeWidth": 0.6, "opacity": 1, "xOffset": 7.7},
           "encoding": {"x": {"datum": "nivo"}, "y": {"datum": 8773}}},
          {"data": {"values": [{}]}, "mark": {"type": "point", "shape": "diamond", "filled": true, "size": 80, "fill": "#f5c226", "stroke": "#6b5200", "strokeWidth": 0.8, "opacity": 1, "xOffset": 7.7},
           "encoding": {"x": {"datum": "nivo"}, "y": {"datum": 8103}}},
          {"data": {"values": [{}]}, "mark": {"type": "point", "shape": "M-1,0H1", "filled": false, "size": 70, "stroke": "#222", "strokeWidth": 2, "opacity": 1, "xOffset": 7.7},
           "encoding": {"x": {"datum": "nivo"}, "y": {"datum": 7401}}},
          {"data": {"values": [{}]}, "mark": {"type": "text", "align": "left", "baseline": "middle", "fontSize": 13.5, "color": "#222", "dx": 20.7},
           "encoding": {"x": {"datum": "nivo"}, "y": {"datum": 8773}, "text": {"value": "Patients with CR/PR"}}},
          {"data": {"values": [{}]}, "mark": {"type": "text", "align": "left", "baseline": "middle", "fontSize": 13.5, "color": "#222", "dx": 20.7},
           "encoding": {"x": {"datum": "nivo"}, "y": {"datum": 8103}, "text": {"value": "Mean"}}},
          {"data": {"values": [{}]}, "mark": {"type": "text", "align": "left", "baseline": "middle", "fontSize": 13.5, "color": "#222", "dx": 20.7},
           "encoding": {"x": {"datum": "nivo"}, "y": {"datum": 7401}, "text": {"value": "Median"}}},
          {"data": {"values": [{}]}, "mark": {"type": "text", "align": "center", "baseline": "middle", "fontSize": 18, "fontWeight": "bold", "color": "#111", "dx": 66.7, "dy": -45.7},
           "encoding": {"x": {"datum": "ADX + nivo"}, "y": {"datum": 8250}, "text": {"value": "All patients"}}},
          {"data": {"values": [{}]}, "mark": {"type": "text", "align": "left", "baseline": "middle", "fontSize": 24, "fontWeight": "bold", "color": "#111", "dx": -180, "dy": -44.2},
           "encoding": {"x": {"datum": "ADX + nivo"}, "y": {"datum": 8250}, "text": {"value": "C"}}},
          {"data": {"values": [{}]}, "mark": {"type": "text", "align": "left", "baseline": "middle", "fontSize": 12.5, "color": "#222", "dx": -190, "dy": 54},
           "encoding": {"x": {"datum": "ADX + nivo"}, "y": {"datum": -1953}, "text": {"value": "*p-value remains nonsignificant when adjusted for BL."}}},
          {"data": {"values": [{}]}, "mark": {"type": "text", "align": "left", "baseline": "middle", "fontSize": 12.5, "color": "#222", "dx": -190, "dy": 70},
           "encoding": {"x": {"datum": "ADX + nivo"}, "y": {"datum": -1953}, "text": {"value": "\u2020Wilcoxon signed-rank test."}}},
          {"data": {"values": [{}]}, "mark": {"type": "text", "align": "left", "baseline": "middle", "fontSize": 12.5, "color": "#222", "dx": -190, "dy": 85.7},
           "encoding": {"x": {"datum": "ADX + nivo"}, "y": {"datum": -1953}, "text": {"value": "CR, complete response; PR, partial response."}}}
        ]
      },
      {"width": 204.4, "height": 228.3, "data": {"values": [{}]}, "mark": "text", "encoding": {"text": {"value": ""}}},
      {
        "width": 324, "height": 228.3,
        "layer": [
          {"data": {"name": "cPosBox"}, "mark": {"type": "rule", "color": "#333", "strokeWidth": 1.5},
           "encoding": {
             "x": {"field": "arm", "type": "nominal", "scale": {"type": "point", "domain": ["ADX + nivo", "nivo"], "padding": 0.718},
               "axis": {"title": "n=p-value vs BL\u2020", "labelFontSize": 16, "labelAngle": 0, "tickSize": 8, "labelPadding": 4, "domainWidth": 1.5, "tickWidth": 1.5, "labelColor": "#111", "titleX": -94.4, "titleY": 11.7, "titleAlign": "left", "titleBaseline": "middle", "titleFontSize": 10.5, "titleFontWeight": "normal", "titleColor": "#333"}},
             "y": {"field": "wlo", "type": "quantitative", "scale": {"domain": [-1953, 8250], "nice": false, "zero": false},
               "axis": {"values": [0, 2000, 4000, 6000, 8000], "tickCount": 100, "format": "d", "title": "% Change in CD8+ Cell Density", "labelFontSize": 16, "tickSize": 8, "labelPadding": 4, "domainWidth": 1.5, "tickWidth": 1.5, "labelColor": "#111", "titleFontSize": 16, "titleFontWeight": "bold", "titleX": -67.3, "titleY": 97.3, "titleAlign": "center", "titleBaseline": "middle", "titleAngle": -90}},
             "y2": {"field": "whi"}
           }},
          {"data": {"name": "cPosBox"}, "mark": {"type": "tick", "color": "#333", "size": 30, "thickness": 1.5},
           "encoding": {"x": {"field": "arm", "type": "nominal"}, "y": {"field": "whi", "type": "quantitative"}}},
          {"data": {"name": "cPosBox"}, "mark": {"type": "tick", "color": "#333", "size": 30, "thickness": 1.5},
           "encoding": {"x": {"field": "arm", "type": "nominal"}, "y": {"field": "wlo", "type": "quantitative"}}},
          {"data": {"name": "cPosBox"}, "mark": {"type": "bar", "size": 59, "stroke": "#333", "strokeWidth": 1},
           "encoding": {"x": {"field": "arm", "type": "nominal"}, "y": {"field": "q1", "type": "quantitative"}, "y2": {"field": "q3"},
             "color": {"condition": {"test": "datum.arm === 'nivo'", "value": "#8eadc5"}, "value": "#d2d971"}}},
          {"data": {"name": "cPosBox"}, "mark": {"type": "tick", "color": "#111", "size": 59, "thickness": 1.8},
           "encoding": {"x": {"field": "arm", "type": "nominal"}, "y": {"field": "med", "type": "quantitative"}}},
          {"data": {"name": "cPos"}, "mark": {"type": "circle", "size": 42, "stroke": "#555", "strokeWidth": 0.7, "opacity": 1},
           "encoding": {"x": {"field": "arm", "type": "nominal"}, "y": {"field": "v", "type": "quantitative"},
             "color": {"condition": [{"test": "datum.cr", "value": "#c91f3a"}, {"test": "datum.arm === 'nivo'", "value": "#aac4d8"}], "value": "#a8c43f"}}},
          {"data": {"name": "cPosBox"}, "mark": {"type": "point", "shape": "diamond", "filled": true, "size": 90, "fill": "#f5c226", "stroke": "#6b5200", "strokeWidth": 0.8, "opacity": 1},
           "encoding": {"x": {"field": "arm", "type": "nominal"}, "y": {"field": "mean", "type": "quantitative"}}},
          {"data": {"name": "cPosBox"}, "mark": {"type": "text", "align": "right", "baseline": "middle", "dx": -31, "fontSize": 11, "color": "#222"},
           "encoding": {"x": {"field": "arm", "type": "nominal"}, "y": {"field": "med", "type": "quantitative"}, "text": {"field": "mlab"}}},
          {"data": {"name": "cPosBox"}, "mark": {"type": "text", "baseline": "middle", "fontSize": 11, "color": "#222"},
           "encoding": {"x": {"field": "arm", "type": "nominal"}, "y": {"datum": -790}, "text": {"field": "n"}}},
          {"data": {"name": "cPosBox"}, "mark": {"type": "text", "baseline": "middle", "fontSize": 11, "color": "#222"},
           "encoding": {"x": {"field": "arm", "type": "nominal"}, "y": {"datum": -1360}, "text": {"field": "p"}}},
          {"data": {"values": [{}]}, "mark": {"type": "rule", "color": "#333", "strokeWidth": 1.5},
           "encoding": {"x": {"datum": "ADX + nivo"}, "x2": {"datum": "nivo"}, "y": {"datum": 5645}}},
          {"data": {"name": "cPosBox"}, "mark": {"type": "rule", "color": "#333", "strokeWidth": 1.5},
           "encoding": {"x": {"field": "arm", "type": "nominal"}, "y": {"datum": 4943}, "y2": {"datum": 5645}}},
          {"data": {"values": [{}]}, "mark": {"type": "text", "baseline": "middle", "fontSize": 13.5, "color": "#222", "dx": 66.7},
           "encoding": {"x": {"datum": "ADX + nivo"}, "y": {"datum": 6347}, "text": {"value": "p=0.03*"}}},
          {"data": {"values": [{}]}, "mark": {"type": "circle", "size": 40, "color": "#c91f3a", "stroke": "#555", "strokeWidth": 0.6, "opacity": 1, "xOffset": 2.7},
           "encoding": {"x": {"datum": "nivo"}, "y": {"datum": 8773}}},
          {"data": {"values": [{}]}, "mark": {"type": "point", "shape": "diamond", "filled": true, "size": 80, "fill": "#f5c226", "stroke": "#6b5200", "strokeWidth": 0.8, "opacity": 1, "xOffset": 2.7},
           "encoding": {"x": {"datum": "nivo"}, "y": {"datum": 8103}}},
          {"data": {"values": [{}]}, "mark": {"type": "point", "shape": "M-1,0H1", "filled": false, "size": 70, "stroke": "#222", "strokeWidth": 2, "opacity": 1, "xOffset": 2.7},
           "encoding": {"x": {"datum": "nivo"}, "y": {"datum": 7401}}},
          {"data": {"values": [{}]}, "mark": {"type": "text", "align": "left", "baseline": "middle", "fontSize": 13.5, "color": "#222", "dx": 15},
           "encoding": {"x": {"datum": "nivo"}, "y": {"datum": 8773}, "text": {"value": "Patients with CR/PR"}}},
          {"data": {"values": [{}]}, "mark": {"type": "text", "align": "left", "baseline": "middle", "fontSize": 13.5, "color": "#222", "dx": 15},
           "encoding": {"x": {"datum": "nivo"}, "y": {"datum": 8103}, "text": {"value": "Mean"}}},
          {"data": {"values": [{}]}, "mark": {"type": "text", "align": "left", "baseline": "middle", "fontSize": 13.5, "color": "#222", "dx": 15},
           "encoding": {"x": {"datum": "nivo"}, "y": {"datum": 7401}, "text": {"value": "Median"}}},
          {"data": {"values": [{}]}, "mark": {"type": "text", "align": "center", "baseline": "middle", "fontSize": 18, "fontWeight": "bold", "color": "#111", "dx": 63.7, "dy": -45.7},
           "encoding": {"x": {"datum": "ADX + nivo"}, "y": {"datum": 8250}, "text": {"value": "PD-L1 (TC + IC) positive"}}},
          {"data": {"values": [{}]}, "mark": {"type": "text", "align": "left", "baseline": "middle", "fontSize": 12.5, "color": "#222", "dx": -193, "dy": 55},
           "encoding": {"x": {"datum": "ADX + nivo"}, "y": {"datum": -1953}, "text": {"value": "*p-value remains significant when adjusted for BL."}}}
        ]
      }
    ]
  },
  {"width": 1, "height": 409.3, "data": {"values": [{}]}, "mark": "text", "encoding": {"text": {"value": ""}}},
  {
    "spacing": 0, "bounds": "flush",
    "hconcat": [
      {"width": 153.3, "height": 28, "data": {"values": [{}]}, "mark": "text", "encoding": {"text": {"value": ""}}},
      {"width": 124, "height": 28, "view": {"fill": "#f5a623", "stroke": "#8a8a8a", "strokeWidth": 1}, "data": {"values": [{}]},
       "mark": {"type": "text", "color": "white", "fontSize": 18, "baseline": "middle", "align": "center"}, "encoding": {"text": {"value": "ActT"}}},
      {"width": 167.7, "height": 28, "data": {"values": [{}]}, "mark": "text", "encoding": {"text": {"value": ""}}},
      {"width": 124, "height": 28, "view": {"fill": "#a51c48", "stroke": "#8a8a8a", "strokeWidth": 1}, "data": {"values": [{}]},
       "mark": {"type": "text", "color": "white", "fontSize": 18, "baseline": "middle", "align": "center"}, "encoding": {"text": {"value": "IFN\u03b3"}}},
      {"width": 167.7, "height": 28, "data": {"values": [{}]}, "mark": "text", "encoding": {"text": {"value": ""}}},
      {"width": 124, "height": 28, "view": {"fill": "#5d9bd6", "stroke": "#8a8a8a", "strokeWidth": 1}, "data": {"values": [{}]},
       "layer": [
         {"mark": {"type": "text", "color": "white", "fontSize": 18, "baseline": "middle", "align": "center", "dx": -7}, "encoding": {"text": {"value": "T"}}},
         {"mark": {"type": "text", "color": "white", "fontSize": 12, "baseline": "middle", "align": "center", "dx": 7, "dy": 5}, "encoding": {"text": {"value": "eff"}}}
       ]}
    ]
  },
  {"width": 1, "height": 28.3, "data": {"values": [{}]}, "mark": "text", "encoding": {"text": {"value": ""}}},
  {
    "spacing": 0, "bounds": "flush",
    "hconcat": [
      {"width": 70.6, "height": 226, "data": {"values": [{}]}, "mark": "text", "encoding": {"text": {"value": ""}}},
      {
        "width": 290.4, "height": 226,
        "view": {"stroke": "#222", "strokeWidth": 1.5},
        "layer": [
          {"data": {"values": [{}]}, "mark": {"type": "rule", "strokeDash": [6, 4], "strokeWidth": 2, "color": "#222"},
           "encoding": {"y": {"datum": 0, "type": "quantitative", "scale": {"domain": [-2.632, 4.285], "nice": false, "zero": false},
             "axis": {"values": [-2, 0, 2, 4], "tickCount": 100, "format": "d", "labelExpr": "replace(datum.label, '\u2212', '-')", "title": "Z-score Change From BL", "labelFontSize": 16, "tickSize": 10, "labelPadding": 6, "domain": false, "tickWidth": 1.5, "labelColor": "#111", "titleFontSize": 18, "titleFontWeight": "bold", "titleX": -73.3, "titleY": 113.7, "titleAlign": "center", "titleBaseline": "middle", "titleAngle": -90}}}},
          {"data": {"name": "dbox"}, "transform": [{"filter": "datum.cat === 'ActT'"}], "mark": {"type": "rule", "color": "#333", "strokeWidth": 2},
           "encoding": {"x": {"field": "arm", "type": "nominal", "scale": {"type": "point", "domain": ["ADX + nivo", "nivo"], "padding": 0.6}, "axis": null}, "y": {"field": "wlo", "type": "quantitative"}, "y2": {"field": "whi"}}},
          {"data": {"name": "dbox"}, "transform": [{"filter": "datum.cat === 'ActT'"}], "mark": {"type": "bar", "size": 99},
           "encoding": {"x": {"field": "arm", "type": "nominal"}, "y": {"field": "q1", "type": "quantitative"}, "y2": {"field": "q3"},
             "color": {"condition": {"test": "datum.arm === 'nivo'", "value": "#0b4d8a"}, "value": "#548235"}}},
          {"data": {"name": "dbox"}, "transform": [{"filter": "datum.cat === 'ActT'"}], "mark": {"type": "tick", "size": 99, "thickness": 2.2},
           "encoding": {"x": {"field": "arm", "type": "nominal"}, "y": {"field": "med", "type": "quantitative"},
             "color": {"condition": {"test": "datum.arm === 'nivo'", "value": "#a5caeb"}, "value": "#cfe5bd"}}},
          {"data": {"name": "dbox"}, "transform": [{"filter": "datum.cat === 'ActT'"}], "mark": {"type": "text", "baseline": "middle", "fontSize": 15.5, "dy": 14, "color": "#222"},
           "encoding": {"x": {"field": "arm", "type": "nominal"}, "y": {"field": "wlo", "type": "quantitative"}, "text": {"field": "n"}}},
          {"data": {"values": [{}]}, "mark": {"type": "text", "baseline": "middle", "fontSize": 16, "dx": 65.75, "color": "#222"},
           "encoding": {"x": {"datum": "ADX + nivo"}, "y": {"datum": 3.88}, "text": {"value": "p=n.s."}}},
          {"data": {"values": [{}]}, "mark": {"type": "text", "align": "left", "baseline": "middle", "fontSize": 24, "fontWeight": "bold", "color": "#111", "dx": -187.2, "dy": -71.8},
           "encoding": {"x": {"datum": "ADX + nivo"}, "y": {"datum": 4.285}, "text": {"value": "D"}}},
          {"data": {"values": [{}]}, "mark": {"type": "text", "align": "left", "baseline": "middle", "fontSize": 20, "fontWeight": "bold", "color": "#b5224f", "dx": -190.2, "dy": -30.3},
           "encoding": {"x": {"datum": "ADX + nivo"}, "y": {"datum": 4.285}, "text": {"value": "PD-L1+"}}},
          {"data": {"values": [{}]}, "mark": {"type": "text", "align": "left", "baseline": "middle", "fontSize": 12.5, "color": "#222", "dx": -187.2, "dy": 61.4},
           "encoding": {"x": {"datum": "ADX + nivo"}, "y": {"datum": -2.632}, "text": {"value": "OT change  from BL (BL z-score \u2013 OT z-score) with paired Wilcoxon test for significance."}}},
          {"data": {"values": [{}]}, "mark": {"type": "point", "shape": "M-1,-0.35H1V0.35H-1Z", "size": 400, "filled": true, "color": "#548235", "opacity": 1, "xOffset": 57.9},
           "encoding": {"x": {"datum": "nivo"}, "y": {"datum": -3.08}}},
          {"data": {"values": [{}]}, "mark": {"type": "text", "align": "left", "baseline": "middle", "fontSize": 18.5, "color": "#111", "dx": 88.9},
           "encoding": {"x": {"datum": "nivo"}, "y": {"datum": -3.08}, "text": {"value": "ADX + nivo"}}}
        ]
      },
      {
        "width": 291, "height": 226,
        "view": {"stroke": "#222", "strokeWidth": 1.5},
        "layer": [
          {"data": {"values": [{}]}, "mark": {"type": "rule", "strokeDash": [6, 4], "strokeWidth": 2, "color": "#222"},
           "encoding": {"y": {"datum": 0, "type": "quantitative", "scale": {"domain": [-2.632, 4.285], "nice": false, "zero": false}, "axis": null}}},
          {"data": {"name": "dbox"}, "transform": [{"filter": "datum.cat === 'IFNg'"}], "mark": {"type": "rule", "color": "#333", "strokeWidth": 2},
           "encoding": {"x": {"field": "arm", "type": "nominal", "scale": {"type": "point", "domain": ["ADX + nivo", "nivo"], "padding": 0.6}, "axis": null}, "y": {"field": "wlo", "type": "quantitative"}, "y2": {"field": "whi"}}},
          {"data": {"name": "dbox"}, "transform": [{"filter": "datum.cat === 'IFNg'"}], "mark": {"type": "bar", "size": 99},
           "encoding": {"x": {"field": "arm", "type": "nominal"}, "y": {"field": "q1", "type": "quantitative"}, "y2": {"field": "q3"},
             "color": {"condition": {"test": "datum.arm === 'nivo'", "value": "#0b4d8a"}, "value": "#548235"}}},
          {"data": {"name": "dbox"}, "transform": [{"filter": "datum.cat === 'IFNg'"}], "mark": {"type": "tick", "size": 99, "thickness": 2.2},
           "encoding": {"x": {"field": "arm", "type": "nominal"}, "y": {"field": "med", "type": "quantitative"},
             "color": {"condition": {"test": "datum.arm === 'nivo'", "value": "#a5caeb"}, "value": "#cfe5bd"}}},
          {"data": {"name": "dbox"}, "transform": [{"filter": "datum.cat === 'IFNg'"}], "mark": {"type": "text", "baseline": "middle", "fontSize": 15.5, "dy": 14, "color": "#222"},
           "encoding": {"x": {"field": "arm", "type": "nominal"}, "y": {"field": "wlo", "type": "quantitative"}, "text": {"field": "n"}}},
          {"data": {"values": [{}]}, "mark": {"type": "text", "baseline": "middle", "fontSize": 16, "dx": 65.75, "color": "#222"},
           "encoding": {"x": {"datum": "ADX + nivo"}, "y": {"datum": 3.88}, "text": {"value": "p=n.s."}}},
          {"data": {"values": [{}]}, "mark": {"type": "point", "shape": "M-1,-0.35H1V0.35H-1Z", "size": 400, "filled": true, "color": "#0b4d8a", "opacity": 1, "xOffset": 17.3},
           "encoding": {"x": {"datum": "nivo"}, "y": {"datum": -3.08}}},
          {"data": {"values": [{}]}, "mark": {"type": "text", "align": "left", "baseline": "middle", "fontSize": 18.5, "color": "#111", "dx": 49.5},
           "encoding": {"x": {"datum": "nivo"}, "y": {"datum": -3.08}, "text": {"value": "nivo"}}}
        ]
      },
      {
        "width": 291.3, "height": 226,
        "view": {"stroke": "#222", "strokeWidth": 1.5},
        "layer": [
          {"data": {"values": [{}]}, "mark": {"type": "rule", "strokeDash": [6, 4], "strokeWidth": 2, "color": "#222"},
           "encoding": {"y": {"datum": 0, "type": "quantitative", "scale": {"domain": [-2.632, 4.285], "nice": false, "zero": false}, "axis": null}}},
          {"data": {"name": "dbox"}, "transform": [{"filter": "datum.cat === 'Teff'"}], "mark": {"type": "rule", "color": "#333", "strokeWidth": 2},
           "encoding": {"x": {"field": "arm", "type": "nominal", "scale": {"type": "point", "domain": ["ADX + nivo", "nivo"], "padding": 0.6}, "axis": null}, "y": {"field": "wlo", "type": "quantitative"}, "y2": {"field": "whi"}}},
          {"data": {"name": "dbox"}, "transform": [{"filter": "datum.cat === 'Teff'"}], "mark": {"type": "bar", "size": 99},
           "encoding": {"x": {"field": "arm", "type": "nominal"}, "y": {"field": "q1", "type": "quantitative"}, "y2": {"field": "q3"},
             "color": {"condition": {"test": "datum.arm === 'nivo'", "value": "#0b4d8a"}, "value": "#548235"}}},
          {"data": {"name": "dbox"}, "transform": [{"filter": "datum.cat === 'Teff'"}], "mark": {"type": "tick", "size": 99, "thickness": 2.2},
           "encoding": {"x": {"field": "arm", "type": "nominal"}, "y": {"field": "med", "type": "quantitative"},
             "color": {"condition": {"test": "datum.arm === 'nivo'", "value": "#a5caeb"}, "value": "#cfe5bd"}}},
          {"data": {"name": "dbox"}, "transform": [{"filter": "datum.cat === 'Teff'"}], "mark": {"type": "text", "baseline": "middle", "fontSize": 15.5, "dy": 14, "color": "#222"},
           "encoding": {"x": {"field": "arm", "type": "nominal"}, "y": {"field": "wlo", "type": "quantitative"}, "text": {"field": "n"}}},
          {"data": {"values": [{}]}, "mark": {"type": "text", "baseline": "middle", "fontSize": 16, "dx": 65.75, "color": "#222"},
           "encoding": {"x": {"datum": "ADX + nivo"}, "y": {"datum": 3.88}, "text": {"value": "p=n.s."}}}
        ]
      }
    ]
  }
]
}
